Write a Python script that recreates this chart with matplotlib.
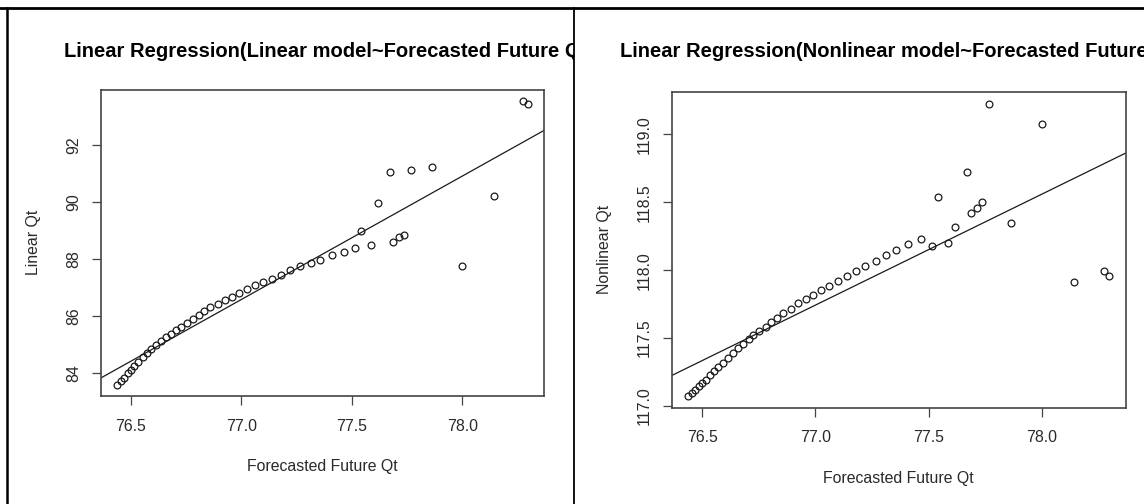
import numpy as np
import matplotlib
matplotlib.use("Agg")
import matplotlib.pyplot as plt
from matplotlib.lines import Line2D

# Forecasted future Qt and the two model outputs, one row per observation
forecast_qt = [76.439, 76.455, 76.470, 76.485, 76.500, 76.515, 76.534, 76.554, 76.572, 76.592,
               76.613, 76.636, 76.660, 76.681, 76.705, 76.726, 76.753, 76.781, 76.806, 76.832,
               76.859, 76.892, 76.925, 76.957, 76.991, 77.025, 77.061, 77.100, 77.138, 77.179,
               77.219, 77.266, 77.313, 77.357, 77.408, 77.464, 77.515, 77.543, 77.585, 77.617,
               77.671, 77.686, 77.712, 77.737, 77.768, 77.861, 78.000, 78.142, 78.272, 78.295]

linear_qt = [83.58, 83.70, 83.83, 83.98, 84.10, 84.25, 84.39, 84.54, 84.68, 84.82,
             84.98, 85.12, 85.24, 85.36, 85.50, 85.62, 85.76, 85.89, 86.03, 86.17,
             86.30, 86.42, 86.56, 86.68, 86.82, 86.95, 87.08, 87.20, 87.31, 87.45,
             87.60, 87.74, 87.87, 87.98, 88.13, 88.24, 88.39, 89.00, 88.50, 89.96,
             91.05, 88.59, 88.76, 88.86, 91.15, 91.25, 87.77, 90.21, 93.56, 93.44]

nonlinear_qt = [117.075, 117.095, 117.12, 117.145, 117.17, 117.195, 117.225, 117.255, 117.285, 117.32,
                117.355, 117.39, 117.43, 117.46, 117.49, 117.52, 117.55, 117.585, 117.62, 117.65,
                117.683, 117.717, 117.757, 117.79, 117.82, 117.857, 117.887, 117.92, 117.96, 117.995,
                118.03, 118.07, 118.11, 118.15, 118.19, 118.23, 118.18, 118.54, 118.20, 118.32,
                118.72, 118.42, 118.46, 118.50, 119.224, 118.35, 119.076, 117.91, 117.995, 117.956]

x_ticks = [76.5, 77.0, 77.5, 78.0]
x_tick_labels = ["76.5", "77.0", "77.5", "78.0"]
linear_ticks = [84, 86, 88, 90, 92]
linear_tick_labels = ["84", "86", "88", "90", "92"]
nonlinear_ticks = [117.0, 117.5, 118.0, 118.5, 119.0]
nonlinear_tick_labels = ["117.0", "117.5", "118.0", "118.5", "119.0"]

titles = ["Linear Regression(Linear model~Forecasted Future Qt)",
          "Linear Regression(Nonlinear model~Forecasted Future Qt)"]
y_labels = ["Linear Qt", "Nonlinear Qt"]
x_label = "Forecasted Future Qt"

W, H = 1144, 504
plt.rcParams["font.family"] = ["Liberation Sans", "DejaVu Sans"]
fig = plt.figure(figsize=(W / 100, H / 100), dpi=100, facecolor="white")


def fx(px):
    return px / W


def fy(py):
    return 1 - py / H


INK = "#1a1a1a"
FRAME = "#444444"
LABEL = "#2a2a2a"


def r_range(values):
    # R-style axis range: data span widened by 4% on each side
    lo, hi = min(values), max(values)
    pad = 0.04 * (hi - lo)
    return lo - pad, hi + pad


panels = [
    # (panel left, panel right, title x, box l, r, t, b, y values, ticks, labels)
    (7, 574, 64, 101, 544, 89.7, 396, linear_qt, linear_ticks, linear_tick_labels),
    (574, 1144, 620, 671.5, 1125.7, 92.3, 407.5, nonlinear_qt, nonlinear_ticks,
     nonlinear_tick_labels),
]

for i, (pl, pr, tx, bl, br, bt, bb, yvals, yt, ytl) in enumerate(panels):
    # Panel-sized holder used to clip the title at the panel edge
    holder = fig.add_axes([fx(pl), 0, fx(pr - pl), fy(8.5)])
    holder.set_axis_off()
    holder.text(fx(tx), fy(51.5), titles[i],
                transform=fig.transFigure, fontsize=14.5, fontweight="bold",
                color="black", ha="left", va="center", clip_on=True)

    ax = fig.add_axes([fx(bl), fy(bb), fx(br - bl), fy(bt) - fy(bb)])
    ax.plot(forecast_qt, yvals, linestyle="none", marker="o", markersize=4.9,
            markerfacecolor="none", markeredgecolor=INK, markeredgewidth=0.9)

    slope, intercept = np.polyfit(forecast_qt, yvals, 1)
    ax.axline((forecast_qt[0], intercept + slope * forecast_qt[0]), slope=slope,
              color=INK, linewidth=0.9)

    ax.set_xlim(*r_range(forecast_qt))
    ax.set_ylim(*r_range(yvals))
    ax.set_xticks(x_ticks)
    ax.set_xticklabels(x_tick_labels)
    ax.set_yticks(yt)
    ax.set_yticklabels(ytl, rotation=90, va="center")
    ax.tick_params(axis="both", direction="out", length=6.5, width=0.9, color=FRAME,
                   labelsize=11.4, labelcolor=LABEL)
    ax.tick_params(axis="x", pad=10)
    ax.tick_params(axis="y", pad=8)
    for sp in ax.spines.values():
        sp.set_color(FRAME)
        sp.set_linewidth(1.2)

    fig.text(fx((bl + br) / 2), fy(bb + 70 if i == 0 else bb + 71.5), x_label,
             fontsize=11.4, color=LABEL, ha="center", va="center")
    fig.text(fx(bl - 67.5), fy((bt + bb) / 2), y_labels[i], rotation=90,
             fontsize=11.4, color=LABEL, ha="center", va="center")

# Outer frame: top rule, left rule and the divider between the two panels
fig.add_artist(Line2D([0, 1], [fy(8.3), fy(8.3)], transform=fig.transFigure,
                      color="black", linewidth=2.0))
fig.add_artist(Line2D([fx(6.7), fx(6.7)], [0, fy(8.3)], transform=fig.transFigure,
                      color="black", linewidth=1.8))
fig.add_artist(Line2D([fx(574.4), fx(574.4)], [0, fy(8.3)], transform=fig.transFigure,
                      color="black", linewidth=1.3))

fig.savefig("out.png", dpi=100, facecolor="white")
